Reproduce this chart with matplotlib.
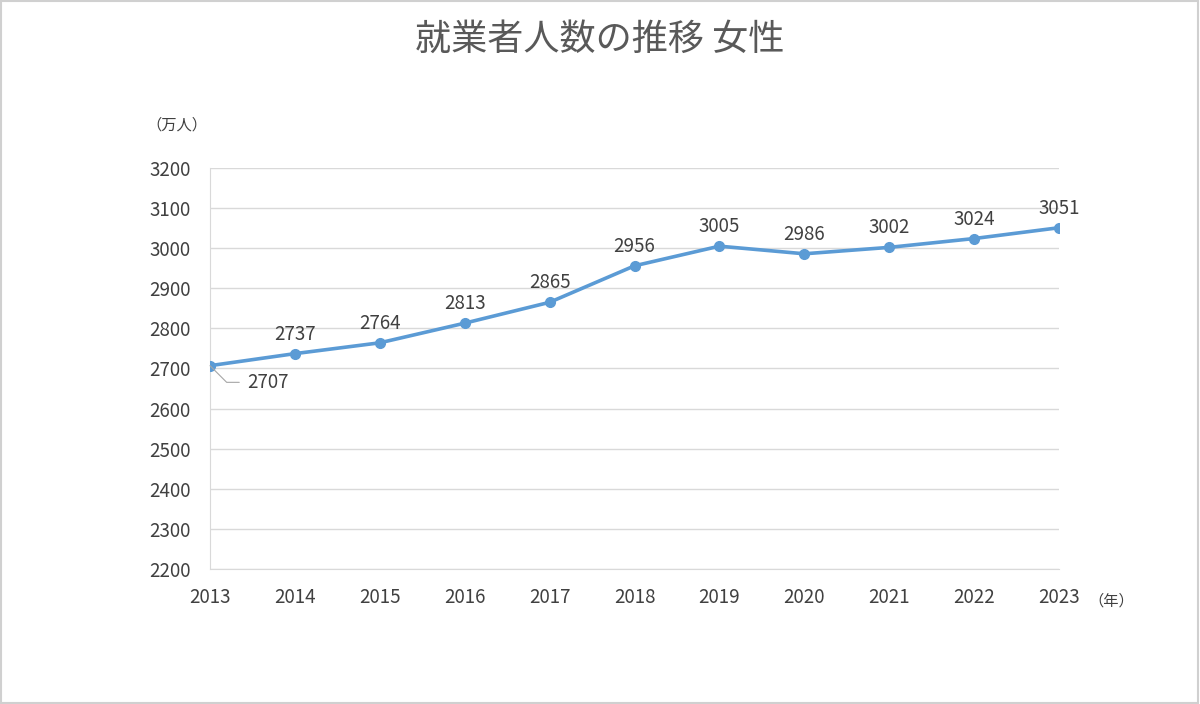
import matplotlib
matplotlib.use("Agg")
import matplotlib.pyplot as plt
from matplotlib.patches import Rectangle

plt.rcParams['font.family'] = ['Noto Sans CJK JP', 'DejaVu Sans']

years = [2013, 2014, 2015, 2016, 2017, 2018, 2019, 2020, 2021, 2022, 2023]
workers = [2707, 2737, 2764, 2813, 2865, 2956, 3005, 2986, 3002, 3024, 3051]
yticks = [2200, 2300, 2400, 2500, 2600, 2700, 2800, 2900, 3000, 3100, 3200]

text_col = '#404040'
line_col = '#5B9BD5'

fig = plt.figure(figsize=(12, 7.04), dpi=100)
ax = fig.add_axes([0.175, 0.1918, 0.7075, 0.5696])

ax.plot(years, workers, color=line_col, lw=2.6, marker='o', ms=7, zorder=3)

ax.set_xlim(2013, 2023)
ax.set_ylim(2200, 3200)
ax.set_xticks(years)
ax.set_yticks(yticks)
ax.tick_params(length=0, labelsize=13.5, labelcolor=text_col)
ax.tick_params(axis='y', pad=14)
ax.tick_params(axis='x', pad=13)
ax.grid(axis='y', color='#d9d9d9', lw=1)
ax.set_axisbelow(True)
for s in ['top', 'right']:
    ax.spines[s].set_visible(False)
ax.spines['left'].set_color('#d9d9d9')
ax.spines['bottom'].set_color('#d9d9d9')

# data labels
for x, y in zip(years, workers):
    if x == 2013:
        ax.annotate(str(y), xy=(x, y), xytext=(42, -12), textcoords='offset points',
                    fontsize=13.5, color=text_col, ha='center', va='center',
                    arrowprops=dict(arrowstyle='-', color='#a6a6a6', lw=0.8,
                                    shrinkA=4, shrinkB=0,
                                    connectionstyle='angle,angleA=0,angleB=-45,rad=0'),
                    annotation_clip=False)
    else:
        ax.annotate(str(y), xy=(x, y), xytext=(0, 10), textcoords='offset points',
                    fontsize=13.5, color=text_col, ha='center', va='baseline')

fig.text(0.5, 0.943, '就業者人数の推移 女性', ha='center', va='center',
         fontsize=26, color='#595959')
fig.text(0.147, 0.822, '（万人）', ha='center', va='center', fontsize=11, color=text_col)
fig.text(0.926, 0.146, '（年）', ha='center', va='center', fontsize=11, color=text_col)

fig.patches.append(Rectangle((0.001, 0.001), 0.997, 0.997, transform=fig.transFigure,
                             fill=False, edgecolor='#d0d0d0', lw=1.5))

fig.savefig('out.png', dpi=100, facecolor='white')
